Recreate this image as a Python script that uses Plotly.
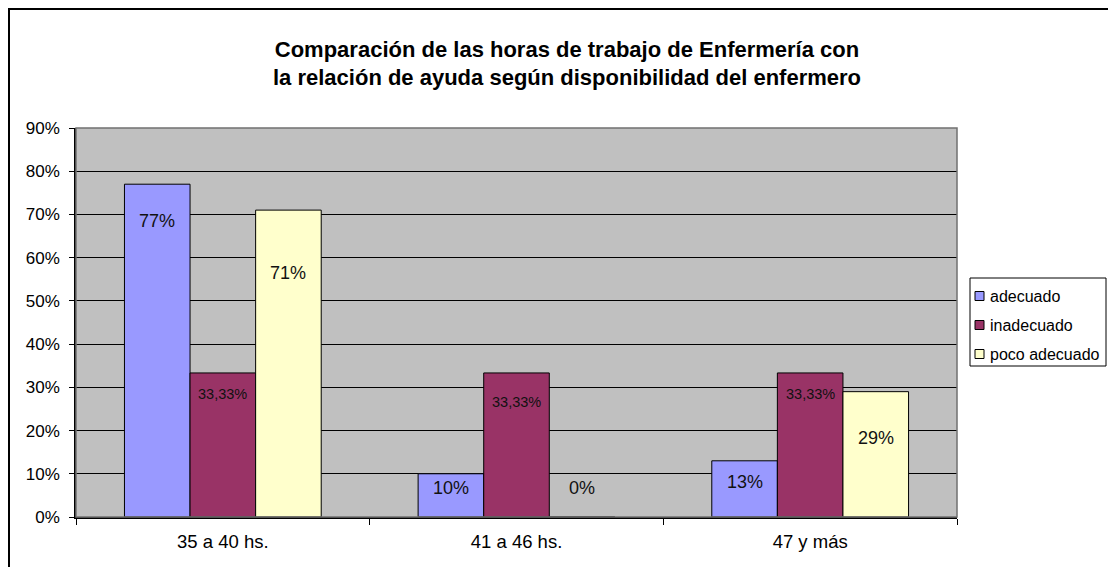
import plotly.graph_objects as go

# datos
categorias = ["35 a 40 hs.", "41 a 46 hs.", "47 y más"]
series = ["adecuado", "inadecuado", "poco adecuado"]
adecuado = [0.77, 0.10, 0.13]
inadecuado = [0.3333, 0.3333, 0.3333]
poco_adecuado = [0.71, 0.0, 0.29]
etiquetas_adecuado = ["77%", "10%", "13%"]
etiquetas_inadecuado = ["33,33%", "33,33%", "33,33%"]
etiquetas_poco = ["71%", "0%", "29%"]
ticks_y = [0, 0.1, 0.2, 0.3, 0.4, 0.5, 0.6, 0.7, 0.8, 0.9]

colores = ["#9999FF", "#993366", "#FFFFCC"]
valores = [adecuado, inadecuado, poco_adecuado]
etiquetas = [etiquetas_adecuado, etiquetas_inadecuado, etiquetas_poco]
# desplazamiento vertical de cada etiqueta (px bajo el tope de la barra)
desplaz = [[37, 14, 21], [21, 29, 21], [63, -29, 46]]
tam_fuente = [18, 14.5, 18]
FUENTE = "Liberation Sans, Arial"

bargap = 0.33
ancho = (1 - bargap) / 3

# geometría del área de trazado (la página añade 8 px de margen)
L, T, W, H = 68, 120, 881, 389
ANCHO_FIG, ALTO_FIG = 1108, 559


def px(x):
    return (x - 8 - L) / W


def py(y):
    return (T + H - (y - 8)) / H


fig = go.Figure()
for j, nombre in enumerate(series):
    fig.add_trace(go.Bar(
        x=categorias, y=valores[j], name=nombre,
        marker=dict(color=colores[j], line=dict(color="black", width=1)),
        hoverinfo="skip", showlegend=False,
    ))

anotaciones = []
for j in range(3):
    for i in range(3):
        anotaciones.append(dict(
            x=i + (j - 1) * ancho, y=valores[j][i], xref="x", yref="y",
            text=etiquetas[j][i], showarrow=False,
            yshift=-desplaz[j][i], xanchor="center", yanchor="middle",
            font=dict(family=FUENTE, size=tam_fuente[j], color="#111"),
        ))

formas = [
    dict(type="rect", xref="paper", yref="paper", x0=0, x1=1, y0=0, y1=1,
         line=dict(color="#707070", width=1.5), layer="above"),
    dict(type="rect", xref="paper", yref="paper",
         x0=px(9), x1=1.3, y0=-0.3, y1=py(9),
         line=dict(color="black", width=2)),
    # leyenda
    dict(type="rect", xref="paper", yref="paper",
         x0=px(970), x1=px(1106), y0=py(366), y1=py(278),
         line=dict(color="black", width=1), fillcolor="white"),
]
centros_leyenda = [296, 325, 354]
for j, nombre in enumerate(series):
    yc = centros_leyenda[j]
    formas.append(dict(type="rect", xref="paper", yref="paper",
                       x0=px(975), x1=px(984), y0=py(yc + 4.5), y1=py(yc - 4.5),
                       line=dict(color="black", width=1), fillcolor=colores[j]))
    anotaciones.append(dict(x=px(988), y=py(yc), xref="paper", yref="paper",
                            text=nombre, showarrow=False, xanchor="left", yanchor="middle",
                            font=dict(family=FUENTE, size=16, color="black")))

fig.update_layout(
    width=ANCHO_FIG, height=ALTO_FIG,
    margin=dict(l=L, r=ANCHO_FIG - L - W, t=T, b=ALTO_FIG - T - H),
    paper_bgcolor="white", plot_bgcolor="#C0C0C0",
    font=dict(family=FUENTE, size=17, color="black"),
    barmode="group", bargap=bargap, bargroupgap=0,
    showlegend=False,
    title=dict(
        text="<b>Comparación de las horas de trabajo de Enfermería con<br>la relación de ayuda según disponibilidad del enfermero</b>",
        x=(567 - 8) / ANCHO_FIG, xref="container", xanchor="center",
        y=1 - (56.5 - 8) / ALTO_FIG, yref="container", yanchor="middle",
        font=dict(size=22, color="black"),
    ),
    annotations=anotaciones,
    shapes=formas,
)
fig.update_yaxes(
    range=[0, 0.9], tickvals=ticks_y, tickformat=".0%",
    showgrid=True, gridcolor="black", gridwidth=1,
    showline=True, linecolor="black", linewidth=1.5,
    ticks="outside", ticklen=5, tickcolor="black", zeroline=False,
    ticklabelstandoff=6, automargin=False,
)
fig.update_xaxes(
    showline=True, linecolor="black", linewidth=1.5,
    ticks="outside", tickson="boundaries", ticklen=6, tickcolor="black",
    ticklabelstandoff=7, tickfont=dict(size=18.5), automargin=False,
)
fig.write_html("out.html")
